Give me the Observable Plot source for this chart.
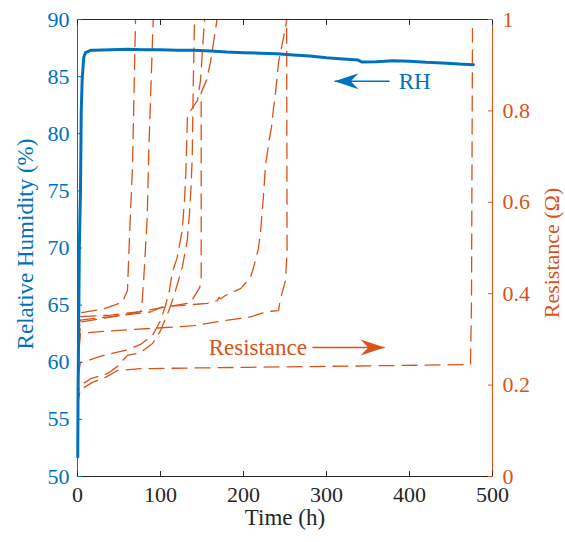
<!DOCTYPE html>
<html><head><meta charset="utf-8">
<script src="https://cdn.jsdelivr.net/npm/d3@7"></script>
<script src="https://cdn.jsdelivr.net/npm/@observablehq/plot@0.6"></script>
<style>body{margin:0;background:#fff} #chart{width:565px;height:542px}</style>
</head><body><div id="chart"></div>
<script>
// ---- data ----
const timeTicks = [0, 100, 200, 300, 400, 500];
const rhTicks = [50, 55, 60, 65, 70, 75, 80, 85, 90];
const resTicks = [0, 0.2, 0.4, 0.6, 0.8, 1];

// Relative humidity (%) vs time (h)
const rhTime  = [0.3, 0.6, 1, 1.5, 2.2, 3, 3.6, 4.5, 5.7, 7.6, 9.6, 15.7, 20, 40, 60, 80, 100, 120, 140, 160, 180, 200, 220, 240, 260, 280, 300, 320, 338, 343, 360, 380, 400, 420, 440, 460, 477];
const rhValue = [51.7, 56, 60, 64, 70, 73, 75, 82, 84.9, 86.7, 87.1, 87.3, 87.3, 87.35, 87.4, 87.35, 87.35, 87.3, 87.3, 87.25, 87.15, 87.1, 87.05, 87.0, 86.9, 86.8, 86.65, 86.55, 86.45, 86.27, 86.3, 86.38, 86.35, 86.25, 86.2, 86.1, 86.05];

// Resistance (Ohm) curves, [time h, resistance]
const resA = [[0,0.21],[2,0.33],[3.6,0.358],[30,0.366],[54,0.381],[60.2,0.407],[62.7,0.527],[66.3,0.681],[69.9,1.0]];
const resB = [[0,0.2],[2,0.32],[3.6,0.350],[40,0.353],[75.9,0.361],[78,0.385],[79.9,0.435],[84,0.567],[85.9,0.713],[91.2,1.0]];
const resC = [[0,0.16],[1.5,0.19],[3.6,0.199],[15.7,0.214],[36.1,0.225],[48.2,0.241],[60.2,0.265],[75.9,0.271],[90.4,0.291],[100,0.319],[109.6,0.361],[115.7,0.392],[126.1,0.457],[132.2,0.516],[134.9,0.575],[137,0.641],[138.2,0.698],[139.4,0.849],[141,1.0]];
const resD = [[0,0.17],[1.5,0.23],[3.6,0.249],[31.3,0.265],[57.8,0.276],[75.9,0.289],[90.4,0.309],[100,0.341],[106,0.374],[110.8,0.407],[114.1,0.446],[120.1,0.479],[126.1,0.538],[128.9,0.604],[130.5,0.663],[131.3,0.713],[132.5,0.790],[144.6,0.823],[148.2,0.867],[153,1.0]];
const resE = [[0,0.19],[2,0.3],[3.6,0.338],[50,0.352],[103.6,0.370],[136.1,0.380],[147.3,0.414],[149,0.435],[149,0.84],[155.4,0.867],[160.2,0.906],[167.5,0.993],[168,1.0]];
const resF = [[0,0.19],[2,0.31],[3.6,0.342],[40,0.350],[88,0.360],[103.6,0.372],[124.1,0.374],[156.6,0.379],[168.7,0.385],[170.5,0.392],[172.3,0.389],[178.3,0.396],[196.4,0.411],[208.4,0.435],[212,0.457],[218,0.499],[220.5,0.534],[224.1,0.615],[226.5,0.681],[231.3,0.740],[233.7,0.764],[236.1,0.805],[238.6,0.840],[242.2,0.906],[244.6,0.928],[250.6,0.982],[252,1.0]];
const resG = [[0,0.18],[2,0.28],[3.6,0.313],[27.7,0.317],[88,0.324],[139.8,0.330],[175.9,0.341],[206,0.348],[228.5,0.361],[242.2,0.363],[244.6,0.389],[250.6,0.429],[252.5,0.495],[252,1.0]];
const resH = [[0,0.15],[1.2,0.17],[3.6,0.19],[18,0.206],[33.7,0.217],[48.2,0.232],[75.9,0.236],[208.4,0.239],[389,0.243],[473.5,0.245],[474.7,0.385],[475.9,0.98]];

// annotations (data coordinates)
const rhNote  = [{label: "RH", t: 387, rh: 84.6, from: 376, to: 309.6, angle: -90}];
const resNote = [{label: "Resistance", t: 276.5, rh: 61.3, from: 283, to: 370, angle: 90}];

// ---- build ----
const BLUE = "#0072BD", ORANGE = "#D95319", DARK = "#262626";
const FONT = "'Liberation Serif', 'Times New Roman', serif";
const rToY = r => 50 + r * 40;           // right axis (0..1) onto left axis (50..90)
const yToR = y => (y - 50) / 40;

const rhData = rhTime.map((t, i) => ({t, v: rhValue[i]}));
const resData = [resA, resB, resC, resD, resE, resF, resG, resH]
  .flatMap((c, k) => c.map(([t, r]) => ({id: k, t, r})));

const headShape = {
  draw(ctx, l) {
    ctx.moveTo(0, 0);
    ctx.lineTo(-8, l);
    ctx.lineTo(0, l * 0.68);
    ctx.lineTo(8, l);
    ctx.closePath();
  }
};

function arrowMarks(note, color, anchor) {
  return [
    Plot.link(note, {x1: "from", x2: "to", y1: "rh", y2: "rh", stroke: color, strokeWidth: 1.5}),
    Plot.vector(note, {x: "to", y: "rh", length: 24, rotate: "angle", anchor: "start", shape: headShape, fill: color, stroke: "none"}),
    Plot.text(note, {x: "t", y: "rh", text: "label", textAnchor: anchor, fill: color, fontSize: 23})
  ];
}

const chart = Plot.plot({
  width: 565, height: 542,
  marginLeft: 77, marginRight: 73, marginTop: 19, marginBottom: 66,
  x: {domain: [0, 500]},
  y: {domain: [50, 90]},
  style: {fontFamily: FONT, fontSize: "22px", background: "white", overflow: "visible"},
  marks: [
    Plot.line(resData, {x: "t", y: d => rToY(d.r), z: "id", stroke: ORANGE, strokeWidth: 1.3, strokeDasharray: "15,8"}),
    Plot.line(rhData, {x: "t", y: "v", stroke: BLUE, strokeWidth: 3}),
    Plot.ruleY([90], {stroke: DARK}),
    Plot.ruleY([50], {stroke: DARK}),
    Plot.ruleX([0], {stroke: BLUE}),
    Plot.ruleX([500], {stroke: ORANGE}),
    Plot.axisX(timeTicks, {anchor: "bottom", tickSize: -5, tickPadding: 15, color: DARK, label: null}),
    Plot.axisX(timeTicks, {anchor: "top", tickSize: -5, tickFormat: () => "", color: DARK, label: null}),
    Plot.axisY(rhTicks, {anchor: "left", tickSize: -5, tickPadding: 13, color: BLUE, label: null}),
    Plot.axisY(resTicks.map(rToY), {anchor: "right", tickSize: -5, tickPadding: 15, color: ORANGE, label: null,
      tickFormat: v => String(+yToR(v).toFixed(1))}),
    Plot.text(["Time (h)"], {text: d => d, frameAnchor: "bottom", dy: 48, fill: DARK, fontSize: 23}),
    Plot.text(["Relative Humidity (%)"], {text: d => d, frameAnchor: "left", textAnchor: "middle", dx: -52, dy: -4, rotate: -90, fill: BLUE, fontSize: 23}),
    Plot.text(["Resistance (\u03A9)"], {text: d => d, frameAnchor: "right", textAnchor: "middle", dx: 59, dy: 5, rotate: -90, fill: ORANGE, fontSize: 22}),
    ...arrowMarks(rhNote, BLUE, "start"),
    ...arrowMarks(resNote, ORANGE, "end")
  ]
});
document.getElementById("chart").appendChild(chart);
</script>
</body></html>
